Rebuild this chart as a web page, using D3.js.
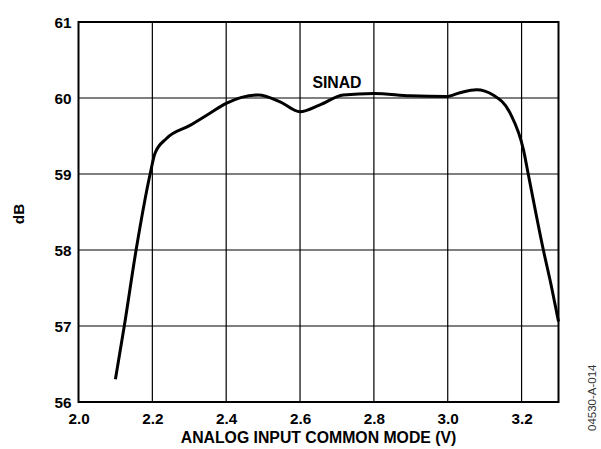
<!DOCTYPE html>
<html><head><meta charset="utf-8">
<script src="https://cdn.jsdelivr.net/npm/d3@7"></script>
<style>body{margin:0;background:#fff}svg{display:block}text{font-family:"Liberation Sans",Arial,sans-serif;font-weight:bold;fill:#000}</style>
</head><body>
<script>
const xVals = [2.10,2.124,2.156,2.194,2.207,2.239,2.302,2.356,2.40,2.487,2.546,2.60,2.654,2.717,2.80,2.898,2.997,3.033,3.078,3.123,3.169,3.205,3.218,3.259,3.28,3.30];
const sinad = [56.30,57.0,58.0,59.0,59.27,59.47,59.64,59.80,59.93,60.04,59.95,59.82,59.91,60.04,60.06,60.03,60.02,60.07,60.11,60.04,59.80,59.32,59.0,58.0,57.54,57.06];
const xTicks = [2.0,2.2,2.4,2.6,2.8,3.0,3.2];
const xTickLabels = ["2.0","2.2","2.4","2.6","2.8","3.0","3.2"];
const yTicks = [56,57,58,59,60,61];
const seriesName = "SINAD";
const xTitle = "ANALOG INPUT COMMON MODE (V)";
const yTitle = "dB";
const figId = "04530-A-014";

const W=601,H=449;
const L=78.5,R=558.5,T=22,B=402;
const svg=d3.select("body").append("svg").attr("width",W).attr("height",H);
const x=d3.scaleLinear().domain([2.0,3.3]).range([L,R]);
const y=d3.scaleLinear().domain([56,61]).range([B,T]);

// grid
svg.append("g").selectAll("line").data(xTicks.slice(1)).join("line")
  .attr("x1",d=>x(d)).attr("x2",d=>x(d)).attr("y1",T).attr("y2",B)
  .attr("stroke","#000").attr("stroke-width",1.2);
svg.append("g").selectAll("line").data(yTicks.slice(1,-1)).join("line")
  .attr("y1",d=>y(d)).attr("y2",d=>y(d)).attr("x1",L).attr("x2",R)
  .attr("stroke","#000").attr("stroke-width",1.2);
svg.append("rect").attr("x",L).attr("y",T).attr("width",R-L).attr("height",B-T)
  .attr("fill","none").attr("stroke","#000").attr("stroke-width",2);

// axes labels
const xa=d3.axisBottom(x).tickValues(xTicks).tickFormat((d,i)=>xTickLabels[i]).tickSize(0).tickPadding(0);
const gx=svg.append("g").attr("transform",`translate(0,${B})`).call(xa);
gx.select(".domain").remove();
gx.selectAll("text").attr("dy",null).attr("y",22).style("font-size","15.3px").style("font-family",null);
const ya=d3.axisLeft(y).tickValues(yTicks).tickFormat(d3.format("d")).tickSize(0).tickPadding(0);
const gy=svg.append("g").attr("transform",`translate(${L-7},0)`).call(ya);
gy.select(".domain").remove();
gy.selectAll("text").attr("dy","0.35em").attr("x",0).style("font-size","15.3px").style("font-family",null);

// curve
const line=d3.line().x((d,i)=>x(xVals[i])).y(d=>y(d)).curve(d3.curveMonotoneX);
svg.append("path").datum(sinad).attr("d",line).attr("fill","none")
  .attr("stroke","#000").attr("stroke-width",3).attr("stroke-linejoin","round");

svg.append("text").attr("x",x(2.70)).attr("y",y(60.13)).attr("text-anchor","middle")
  .style("font-size","15.8px").text(seriesName);
svg.append("text").attr("x",(L+R)/2).attr("y",443).attr("text-anchor","middle")
  .style("font-size","15.8px").text(xTitle);
svg.append("text").attr("transform",`translate(24,214) rotate(-90)`).attr("text-anchor","middle")
  .style("font-size","15.3px").text(yTitle);
svg.append("text").attr("transform",`translate(596,431) rotate(-90)`).attr("text-anchor","start")
  .style("font-size","11.5px").style("font-weight","normal").style("fill","#333").text(figId);
</script>
</body></html>
